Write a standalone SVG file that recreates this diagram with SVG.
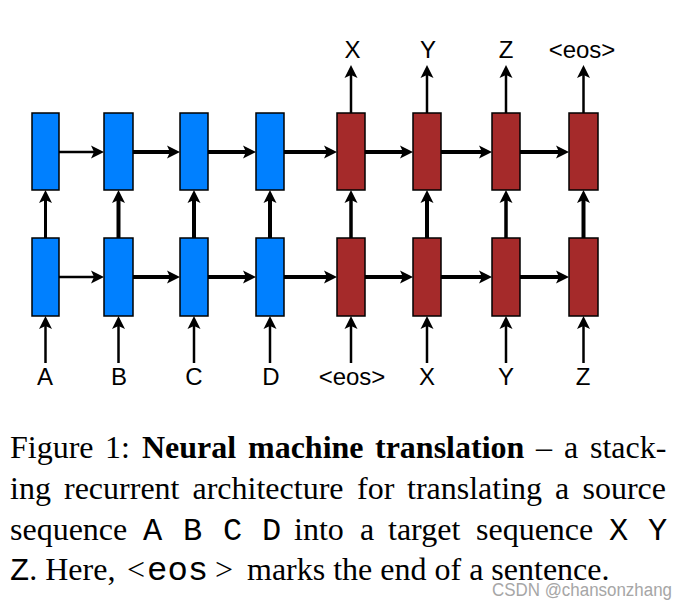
<svg xmlns="http://www.w3.org/2000/svg" width="687" height="608" viewBox="0 0 687 608">
<style>
.enc{fill:#0080ff;stroke:#000;stroke-width:1.5}
.dec{fill:#a52a2a;stroke:#000;stroke-width:1.5}
.c{stroke:#000;fill:none;marker-end:url(#ah)}
.lbl{font-family:"Liberation Sans",Arial,sans-serif;font-size:24px;fill:#000;text-anchor:middle}
.cap{font-family:"Liberation Serif","Times New Roman",serif;font-size:32px;fill:#000}
.b{font-weight:bold}
.m{font-family:"Liberation Mono","Courier New",monospace;font-size:32px}
.wm{font-family:"Liberation Sans",Arial,sans-serif;font-size:18px;fill:#a6a6a6}
</style>
<defs>
<marker id="ah" markerUnits="userSpaceOnUse" markerWidth="1" markerHeight="1" refX="0" refY="0" orient="auto" overflow="visible">
<path d="M-3,-6.5 L10,0 L-3,6.5 L0,0 Z" fill="#000"/>
</marker>
</defs>
<g id="connectors">
<line class="c" x1="59" y1="152" x2="94" y2="152" stroke-width="2.5"/>
<line class="c" x1="133" y1="152" x2="170" y2="152" stroke-width="4"/>
<line class="c" x1="208" y1="152" x2="246" y2="152" stroke-width="4"/>
<line class="c" x1="284" y1="152" x2="327" y2="152" stroke-width="4"/>
<line class="c" x1="365" y1="152" x2="403" y2="152" stroke-width="4"/>
<line class="c" x1="441" y1="152" x2="482" y2="152" stroke-width="4"/>
<line class="c" x1="520" y1="152" x2="559" y2="152" stroke-width="4"/>
<line class="c" x1="59" y1="277" x2="94" y2="277" stroke-width="2.5"/>
<line class="c" x1="133" y1="277" x2="170" y2="277" stroke-width="4"/>
<line class="c" x1="208" y1="277" x2="246" y2="277" stroke-width="4"/>
<line class="c" x1="284" y1="277" x2="327" y2="277" stroke-width="4"/>
<line class="c" x1="365" y1="277" x2="403" y2="277" stroke-width="4"/>
<line class="c" x1="441" y1="277" x2="482" y2="277" stroke-width="4"/>
<line class="c" x1="520" y1="277" x2="559" y2="277" stroke-width="4"/>
<line class="c" x1="45.5" y1="238" x2="45.5" y2="200" stroke-width="3"/>
<line class="c" x1="118.5" y1="238" x2="118.5" y2="200" stroke-width="4"/>
<line class="c" x1="194" y1="238" x2="194" y2="200" stroke-width="4"/>
<line class="c" x1="270" y1="238" x2="270" y2="200" stroke-width="4"/>
<line class="c" x1="351" y1="238" x2="351" y2="200" stroke-width="3.5"/>
<line class="c" x1="427" y1="238" x2="427" y2="200" stroke-width="4"/>
<line class="c" x1="506" y1="238" x2="506" y2="200" stroke-width="3.5"/>
<line class="c" x1="583.5" y1="238" x2="583.5" y2="200" stroke-width="4"/>
<line class="c" x1="45.5" y1="363" x2="45.5" y2="326" stroke-width="2.5"/>
<line class="c" x1="118.5" y1="363" x2="118.5" y2="326" stroke-width="2.5"/>
<line class="c" x1="194" y1="363" x2="194" y2="326" stroke-width="2.5"/>
<line class="c" x1="270" y1="363" x2="270" y2="326" stroke-width="2.5"/>
<line class="c" x1="351" y1="363" x2="351" y2="326" stroke-width="2.5"/>
<line class="c" x1="427" y1="363" x2="427" y2="326" stroke-width="2.5"/>
<line class="c" x1="506" y1="363" x2="506" y2="326" stroke-width="2.5"/>
<line class="c" x1="583.5" y1="363" x2="583.5" y2="326" stroke-width="2.5"/>
<line class="c" x1="351" y1="113" x2="351" y2="75" stroke-width="2.5"/>
<line class="c" x1="427" y1="113" x2="427" y2="75" stroke-width="2.5"/>
<line class="c" x1="506" y1="113" x2="506" y2="75" stroke-width="2.5"/>
<line class="c" x1="583.5" y1="113" x2="583.5" y2="75" stroke-width="2.5"/>
</g>
<g id="enc-top-1"><rect class="enc" x="32" y="113" width="27" height="77"/></g>
<g id="enc-top-2"><rect class="enc" x="104" y="113" width="29" height="77"/></g>
<g id="enc-top-3"><rect class="enc" x="180" y="113" width="28" height="77"/></g>
<g id="enc-top-4"><rect class="enc" x="256" y="113" width="28" height="77"/></g>
<g id="dec-top-1"><rect class="dec" x="337" y="113" width="28" height="77"/></g>
<g id="dec-top-2"><rect class="dec" x="413" y="113" width="28" height="77"/></g>
<g id="dec-top-3"><rect class="dec" x="492" y="113" width="28" height="77"/></g>
<g id="dec-top-4"><rect class="dec" x="569" y="113" width="29" height="77"/></g>
<g id="enc-bot-1"><rect class="enc" x="32" y="238" width="27" height="78"/></g>
<g id="enc-bot-2"><rect class="enc" x="104" y="238" width="29" height="78"/></g>
<g id="enc-bot-3"><rect class="enc" x="180" y="238" width="28" height="78"/></g>
<g id="enc-bot-4"><rect class="enc" x="256" y="238" width="28" height="78"/></g>
<g id="dec-bot-1"><rect class="dec" x="337" y="238" width="28" height="78"/></g>
<g id="dec-bot-2"><rect class="dec" x="413" y="238" width="28" height="78"/></g>
<g id="dec-bot-3"><rect class="dec" x="492" y="238" width="28" height="78"/></g>
<g id="dec-bot-4"><rect class="dec" x="569" y="238" width="29" height="78"/></g>
<g id="labels">
<text class="lbl" x="352.5" y="58">X</text>
<text class="lbl" x="428" y="58">Y</text>
<text class="lbl" x="506" y="58">Z</text>
<text class="lbl" x="582" y="58">&lt;eos&gt;</text>
<text class="lbl" x="45" y="385">A</text>
<text class="lbl" x="119" y="385">B</text>
<text class="lbl" x="194" y="385">C</text>
<text class="lbl" x="271" y="385">D</text>
<text class="lbl" x="352" y="385">&lt;eos&gt;</text>
<text class="lbl" x="427" y="385">X</text>
<text class="lbl" x="506" y="385">Y</text>
<text class="lbl" x="583" y="385">Z</text>
</g>
<g id="caption">
<text class="cap" y="458"><tspan x="10">Figure</tspan><tspan x="105">1:</tspan><tspan class="b" x="142">Neural</tspan><tspan class="b" x="248">machine</tspan><tspan class="b" x="375">translation</tspan><tspan x="536">–</tspan><tspan x="564">a</tspan><tspan x="590">stack-</tspan></text>
<text class="cap" y="499"><tspan x="10">ing</tspan><tspan x="64">recurrent</tspan><tspan x="192.5">architecture</tspan><tspan x="357">for</tspan><tspan x="407">translating</tspan><tspan x="555">a</tspan><tspan x="582.5">source</tspan></text>
<text class="cap" y="540"><tspan x="10">sequence</tspan><tspan class="m" x="143">A</tspan><tspan class="m" x="183">B</tspan><tspan class="m" x="223">C</tspan><tspan class="m" x="262">D</tspan><tspan x="294">into</tspan><tspan x="360">a</tspan><tspan x="388">target</tspan><tspan x="476">sequence</tspan><tspan class="m" x="609">X</tspan><tspan class="m" x="648">Y</tspan></text>
<text class="cap" y="580"><tspan class="m" x="10">Z</tspan><tspan>. Here,</tspan><tspan x="127">&lt;</tspan><tspan class="m" x="147" style="font-size:34px">eos</tspan><tspan x="215">&gt;</tspan><tspan x="247">marks the end of a sentence.</tspan></text>
</g>
<text class="wm" x="492" y="596" textLength="180" lengthAdjust="spacingAndGlyphs">CSDN @chansonzhang</text>
</svg>
